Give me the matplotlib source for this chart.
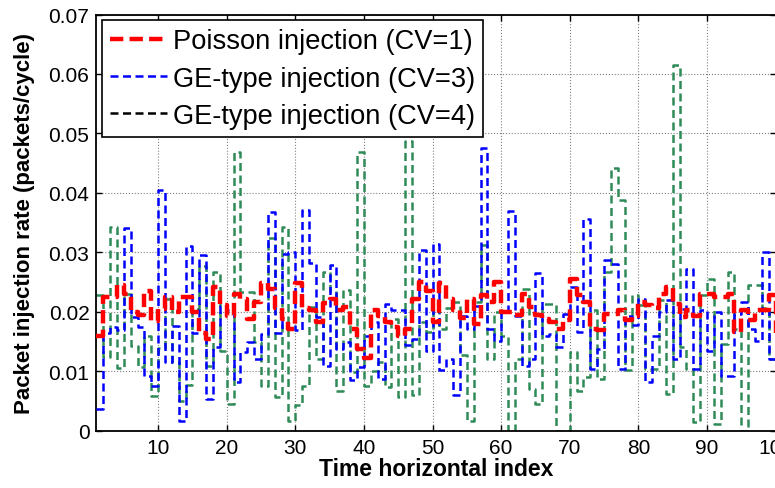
import numpy as np
import matplotlib.pyplot as plt
from matplotlib.lines import Line2D

plt.rcParams['font.family'] = ['Liberation Sans', 'DejaVu Sans']

# time index 1..100
t = np.arange(1, 101)

# injection rates (x 1e-3 packets/cycle)
poisson = [16, 22.5, 22.5, 24.5, 23, 20, 19.5, 23.5, 18.5, 20.5,
           22.5, 20, 22.5, 22.5, 20, 16.5, 15.5, 24.2, 21.1, 19.4,
           23.1, 22.2, 18.9, 21.7, 24.8, 23.9, 20.6, 18.9, 17.2, 24.8,
           20.6, 20.3, 18.3, 21.5, 22.2, 20.3, 20.8, 17.2, 13.8, 12.3,
           20.3, 19.4, 18.3, 17.5, 16.0, 17.2, 22.2, 25.0, 23.6, 18.3,
           24.8, 22.2, 20.3, 19.0, 22.2, 18.0, 22.8, 21.7, 25.0, 20.0,
           20.0, 19.5, 23.1, 20.8, 19.5, 18.9, 18.3, 17.2, 18.6, 25.6,
           22.8, 21.7, 17.2, 16.9, 19.7, 19.7, 20.3, 18.6, 19.4, 21.7,
           21.1, 20.6, 23.1, 24.2, 21.4, 19.2, 20.3, 19.4, 23.1, 23.1,
           22.5, 22.5, 23.1, 16.6, 20.3, 18.6, 20.3, 20.3, 22.8, 16.5]

ge_cv3 = [3.7, 16.5, 17.5, 17.0, 34.2, 19.2, 17.5, 9.2, 7.5, 40.5,
          11.6, 17.7, 1.7, 31.1, 16.5, 29.5, 5.4, 14.1, 21.0, 20.3,
          8.2, 13.3, 14.9, 12.1, 16.3, 36.8, 16.5, 29.8, 30.0, 17.0,
          37.1, 28.2, 19.2, 11.0, 27.9, 13.8, 14.9, 8.5, 10.7, 16.0,
          18.3, 8.8, 21.4, 20.3, 20.3, 14.4, 15.5, 30.4, 13.5, 31.5,
          10.2, 12.1, 6.0, 19.4, 17.2, 21.0, 47.5, 17.2, 15.2, 20.0,
          36.9, 19.4, 11.0, 12.1, 26.5, 16.0, 16.3, 14.1, 19.7, 24.2,
          16.6, 35.7, 10.4, 13.8, 28.7, 28.1, 10.4, 19.4, 17.8, 22.2,
          8.2, 16.0, 20.0, 22.0, 12.1, 20.5, 27.3, 10.4, 20.3, 13.5,
          20.0, 9.3, 9.3, 19.7, 21.7, 17.2, 15.2, 30.1, 12.1, 19.7]

ge_cv4 = [22.8, 12.5, 34.3, 10.6, 23.0, 14.2, 10.7, 16.0, 5.8, 14.0,
          22.2, 11.6, 5.0, 7.7, 20.5, 27.8, 11.0, 26.7, 13.5, 4.5,
          46.9, 23.4, 23.4, 14.9, 7.6, 32.4, 5.7, 34.3, 1.7, 4.3,
          7.6, 20.8, 12.1, 26.7, 23.6, 6.8, 23.7, 9.9, 46.9, 7.6,
          10.1, 11.6, 7.4, 18.9, 5.7, 48.8, 6.0, 18.3, 16.6, 20.6,
          17.2, 20.6, 21.7, 12.7, 1.7, 21.7, 31.2, 12.1, 20.0, 16.0,
          0.0, 12.1, 23.9, 7.1, 4.5, 21.4, 21.4, 0.0, 0.0, 13.3,
          6.8, 9.0, 20.3, 8.8, 26.7, 44.2, 38.8, 10.2, 22.8, 21.1,
          10.4, 10.4, 22.0, 6.2, 61.5, 14.1, 10.4, 1.5, 22.8, 25.6,
          1.2, 14.7, 26.7, 17.2, 0.0, 24.5, 24.5, 20.6, 12.1, 10.0]

labels = ['Poisson injection (CV=1)', 'GE-type injection (CV=3)', 'GE-type injection (CV=4)']

poisson = np.array(poisson) / 1000
ge_cv3 = np.array(ge_cv3) / 1000
ge_cv4 = np.array(ge_cv4) / 1000

fig = plt.figure(figsize=(7.75, 4.89), dpi=100)
ax = fig.add_axes([0.1243, 0.1166, 0.8765, 0.8517])

green = '#2e8b57'
ax.step(t, ge_cv4, where='post', color=green, lw=1.8, ls=(0, (3.2, 1.8)), zorder=2)
ax.step(t, ge_cv3, where='post', color='blue', lw=1.8, ls=(0, (3.2, 1.8)), zorder=3)
ax.step(t, poisson, where='post', color='red', lw=3.2, ls=(0, (3, 1.4)), zorder=4)

ax.set_xlim(1, 100)
ax.set_ylim(0, 0.07)
ax.set_xticks(np.arange(10, 101, 10))
ax.set_yticks(np.arange(0, 0.071, 0.01))
ax.set_yticklabels(['0', '0.01', '0.02', '0.03', '0.04', '0.05', '0.06', '0.07'])
ax.grid(True, ls=':', color='#808080', lw=0.8)
ax.tick_params(direction='in', top=True, right=True, labelsize=15, length=4, width=1, pad=5)
for s in ax.spines.values():
    s.set_linewidth(1.3)

ax.set_xlabel('Time horizontal index', fontsize=16.5, fontweight='bold', labelpad=0)
ax.set_ylabel('Packet injection rate (packets/cycle)', fontsize=16, fontweight='bold', labelpad=10)

handles = [Line2D([], [], color='red', lw=3.2, ls=(0, (3, 1.4))),
           Line2D([], [], color='blue', lw=1.8, ls=(0, (3.2, 1.8))),
           Line2D([], [], color='black', lw=1.8, ls=(0, (3.2, 1.8)))]
leg = ax.legend(handles, labels, loc='upper left', fontsize=19.6, frameon=True, fancybox=False,
                edgecolor='black', framealpha=1, handlelength=2.1, handletextpad=0.2,
                borderaxespad=0.2, labelspacing=0.42, borderpad=0.3)
leg.get_frame().set_linewidth(1.2)

fig.savefig('out.png', dpi=100)
